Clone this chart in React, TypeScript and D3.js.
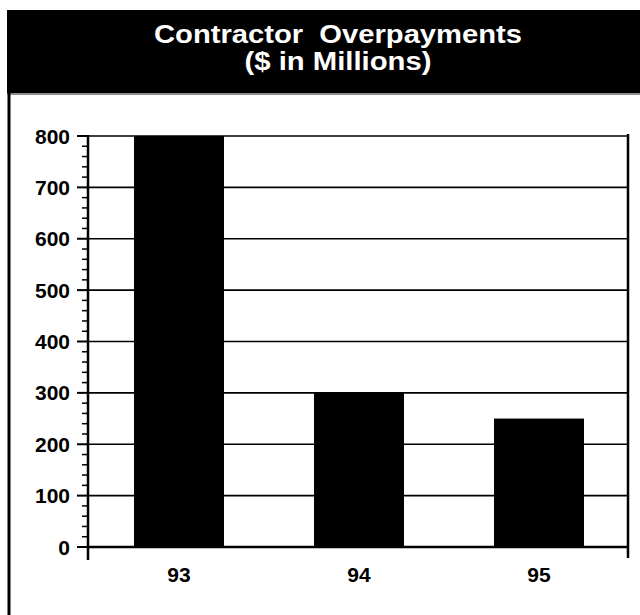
import React from "react";
import * as d3 from "d3";

const categories = ["93", "94", "95"];
const values = [800, 300, 250];
const yTicks = [0, 100, 200, 300, 400, 500, 600, 700, 800];
const titleLines = ["Contractor  Overpayments", "($ in Millions)"];

const W = 640;
const H = 615;
const plot = { left: 88, right: 628, top: 136, bottom: 547 };

export default function App() {
  const x = d3
    .scaleBand<string>()
    .domain(categories)
    .range([plot.left + 1, plot.right + 1])
    .paddingInner(0.5)
    .paddingOuter(0.25);
  const y = d3.scaleLinear().domain([0, 800]).range([plot.bottom, plot.top]);
  const minor = d3.range(0, 801, 20).filter((v) => v % 100 !== 0);
  const font = "'Liberation Sans', Arial, Helvetica, sans-serif";

  return (
    <svg
      width={W}
      height={H}
      style={{ position: "absolute", left: 0, top: 0, background: "#fff" }}
      fontFamily={font}
    >
      {/* banner */}
      <rect x={7} y={10} width={W - 7} height={83} fill="#000" />
      <text
        x={338}
        y={43}
        textAnchor="middle"
        fill="#fff"
        fontWeight="bold"
        fontSize={25}
        textLength={368}
        lengthAdjust="spacingAndGlyphs"
        style={{ whiteSpace: "pre" }}
      >
        {titleLines[0]}
      </text>
      <text
        x={338}
        y={70}
        textAnchor="middle"
        fill="#fff"
        fontWeight="bold"
        fontSize={25}
        textLength={187}
        lengthAdjust="spacingAndGlyphs"
      >
        {titleLines[1]}
      </text>
      {/* frame */}
      <line x1={7} x2={W} y1={94} y2={94} stroke="#000" strokeWidth={1.5} strokeOpacity={0.6} />
      <line x1={9} x2={9} y1={92} y2={H} stroke="#000" strokeWidth={3} />

      {/* gridlines */}
      {yTicks.slice(1).map((t) => (
        <line key={"g" + t} x1={plot.left} x2={plot.right} y1={y(t)} y2={y(t)} stroke="#000" strokeWidth={1.6} />
      ))}

      {/* bars */}
      {categories.map((c, i) => (
        <rect
          key={c}
          x={x(c)!}
          y={y(values[i])}
          width={x.bandwidth()}
          height={y(0) - y(values[i])}
          fill="#000"
        />
      ))}

      {/* baseline */}
      <line x1={plot.left} x2={plot.right} y1={y(0)} y2={y(0)} stroke="#000" strokeWidth={2.5} />

      {/* axes */}
      <line x1={plot.left} x2={plot.left} y1={plot.top - 1} y2={560} stroke="#000" strokeWidth={2.5} />
      <line x1={plot.right} x2={plot.right} y1={plot.top - 2} y2={558} stroke="#000" strokeWidth={2.5} />

      {/* major ticks */}
      {yTicks.map((t) => (
        <g key={"t" + t}>
          <line x1={plot.left - 11} x2={plot.left} y1={y(t)} y2={y(t)} stroke="#000" strokeWidth={2} />
          <text
            x={70}
            y={y(t)}
            dy="0.36em"
            textAnchor="end"
            fontWeight="bold"
            fontSize={21}
            fill="#000"
          >
            {t}
          </text>
        </g>
      ))}
      {/* minor ticks */}
      {minor.map((t) => (
        <line key={"m" + t} x1={plot.left - 6} x2={plot.left} y1={y(t)} y2={y(t)} stroke="#000" strokeWidth={1.5} />
      ))}

      {/* x labels */}
      {categories.map((c) => (
        <text
          key={"x" + c}
          x={x(c)! + x.bandwidth() / 2}
          y={582}
          textAnchor="middle"
          fontWeight="bold"
          fontSize={21}
          fill="#000"
        >
          {c}
        </text>
      ))}
    </svg>
  );
}
